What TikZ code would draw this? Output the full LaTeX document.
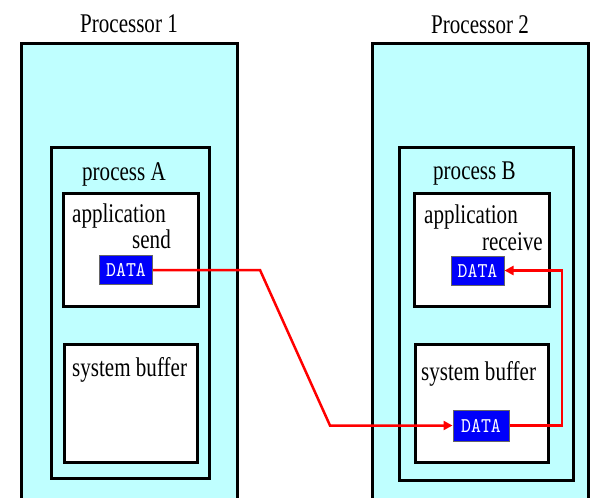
\documentclass[tikz,border=0pt]{standalone}
\usepackage{fontspec}
\setmainfont{Liberation Serif}[FakeStretch=0.78]
\newfontfamily\datafont{lmmono10-regular.otf}[FakeStretch=0.9]
\usetikzlibrary{arrows.meta}
\definecolor{proccyan}{RGB}{191,255,255}
\definecolor{datablue}{RGB}{0,0,250}

\begin{document}
\begin{tikzpicture}[x=1pt,y=-1pt]
        \useasboundingbox (0,0) rectangle (590,498);
        \begin{scope}[every node/.style={rectangle,draw=black,line width=3pt,inner sep=0pt}]
            \node (P1) [fill=proccyan, minimum width=216pt, minimum height=462pt] at (129, 274) {} ;
            \node (P2) [fill=proccyan, minimum width=216pt, minimum height=462pt] at (480, 274) {} ;
            \node (pA) [fill=proccyan, minimum width=158pt, minimum height=331pt] at (130, 312.5) {} ;
            \node (pB) [fill=proccyan, minimum width=174pt, minimum height=333pt] at (486, 313.5) {} ;
            \node (appA) [fill=white, minimum width=135pt, minimum height=113pt] at (130.5, 249.5) {} ;
            \node (appB) [fill=white, minimum width=135pt, minimum height=113pt] at (481.5, 249.5) {} ;
            \node (bufA) [fill=white, minimum width=133pt, minimum height=118pt] at (130.5, 403) {} ;
            \node (bufB) [fill=white, minimum width=133pt, minimum height=118pt] at (481.5, 403) {} ;
        \end{scope}
        \begin{scope}[every node/.style={font=\fontsize{27}{32}\selectfont,inner sep=0pt}]
            \node (P1lbl) [anchor=base] at (129, 32) {Processor 1} ;
            \node (P2lbl) [anchor=base] at (480, 33) {Processor 2} ;
            \node (pAlbl) [anchor=base west] at (82, 180) {process A} ;
            \node (pBlbl) [anchor=base west] at (433, 179) {process B} ;
            \node (appAlbl) [anchor=base west] at (72, 222) {application} ;
            \node (sendlbl) [anchor=base east] at (171, 248) {send} ;
            \node (appBlbl) [anchor=base west] at (424, 223) {application} ;
            \node (recvlbl) [anchor=base east] at (543, 250) {receive} ;
            \node (bufAlbl) [anchor=base west] at (72, 376) {system buffer} ;
            \node (bufBlbl) [anchor=base west] at (421, 380) {system buffer} ;
        \end{scope}
        \begin{scope}[every node/.style={rectangle,draw=black!60,line width=1pt,fill=datablue,text=white,
                      font=\datafont\fontsize{21}{24}\selectfont,inner sep=0pt}]
            \node (dA) [minimum width=53pt, minimum height=29pt] at (126, 270) {DATA} ;
            \node (dR) [minimum width=53pt, minimum height=29pt] at (477.5, 270.5) {DATA} ;
            \node (dS) [minimum width=56pt, minimum height=31pt] at (481, 425.5) {DATA} ;
        \end{scope}

        \coordinate (bendA) at (260, 270);
        \coordinate (bendB) at (330, 425.5);
        \coordinate (turn) at (562, 425.5);
        \begin{scope}[every path/.style={draw=red,line width=2.5pt}]
            \path [-{Triangle[length=9pt,width=9pt]}] (dA.east) -- (bendA) -- (bendB) -- (dS.west);
            \path [-{Triangle[length=9pt,width=9pt]}] (dS.east) -- (turn) |- (dR.east);
        \end{scope}
    \end{tikzpicture}
\end{document}
